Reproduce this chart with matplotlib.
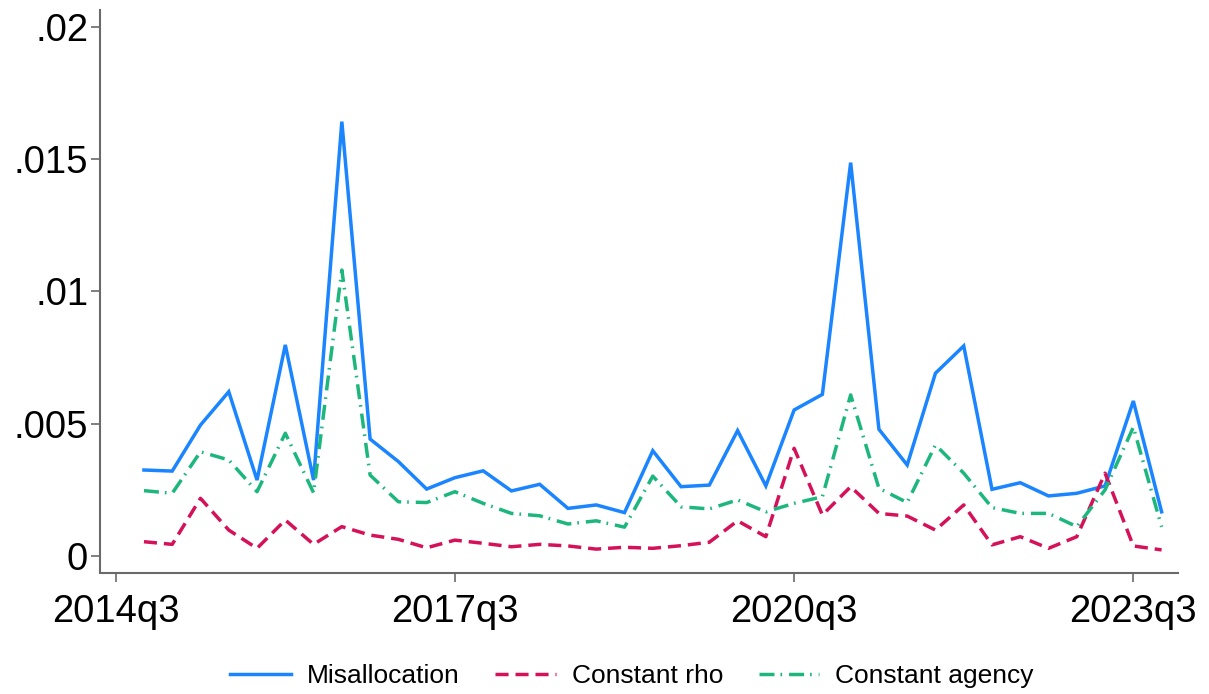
import matplotlib
matplotlib.use("Agg")
import matplotlib.pyplot as plt
import numpy as np

plt.rcParams['font.family'] = ['Liberation Sans', 'DejaVu Sans']
plt.rcParams['lines.scale_dashes'] = False

# Quarterly series, 2014q4 .. 2023q4
quarters = ["2014q4", "2015q1", "2015q2", "2015q3", "2015q4", "2016q1", "2016q2", "2016q3",
            "2016q4", "2017q1", "2017q2", "2017q3", "2017q4", "2018q1", "2018q2", "2018q3",
            "2018q4", "2019q1", "2019q2", "2019q3", "2019q4", "2020q1", "2020q2", "2020q3",
            "2020q4", "2021q1", "2021q2", "2021q3", "2021q4", "2022q1", "2022q2", "2022q3",
            "2022q4", "2023q1", "2023q2", "2023q3", "2023q4"]

misallocation = [0.00325, 0.00321, 0.00495, 0.00621, 0.00287, 0.00798, 0.00287, 0.01642,
                 0.00442, 0.00357, 0.00253, 0.00296, 0.00322, 0.00246, 0.00271, 0.00180,
                 0.00193, 0.00164, 0.00398, 0.00262, 0.00268, 0.00474, 0.00265, 0.00552,
                 0.00611, 0.01487, 0.00479, 0.00344, 0.00691, 0.00794, 0.00252, 0.00277,
                 0.00227, 0.00237, 0.00265, 0.00586, 0.00167]

constant_rho = [0.00054, 0.00044, 0.00218, 0.00098, 0.00029, 0.00136, 0.00044, 0.00111,
                0.00079, 0.00063, 0.00031, 0.00060, 0.00048, 0.00035, 0.00044, 0.00038,
                0.00026, 0.00033, 0.00029, 0.00039, 0.00052, 0.00133, 0.00073, 0.00407,
                0.00155, 0.00262, 0.00161, 0.00151, 0.00098, 0.00193, 0.00042, 0.00073,
                0.00029, 0.00073, 0.00313, 0.00038, 0.00023]

constant_agency = [0.00247, 0.00237, 0.00394, 0.00363, 0.00243, 0.00464, 0.00239, 0.01081,
                   0.00306, 0.00205, 0.00202, 0.00243, 0.00199, 0.00161, 0.00152, 0.00121,
                   0.00133, 0.00109, 0.00302, 0.00186, 0.00178, 0.00212, 0.00167, 0.00199,
                   0.00224, 0.00609, 0.00256, 0.00202, 0.00420, 0.00313, 0.00183, 0.00161,
                   0.00161, 0.00111, 0.00250, 0.00487, 0.00110]

xtick_labels = ["2014q3", "2017q3", "2020q3", "2023q3"]
ytick_values = [0, 0.005, 0.01, 0.015, 0.02]
ytick_labels = ["0", ".005", ".01", ".015", ".02"]


def quarter_index(q):
    # quarters elapsed since 2014q3
    year, qq = int(q[:4]), int(q[5])
    return (year - 2014) * 4 + (qq - 3)


x = np.array([quarter_index(q) for q in quarters])
xticks = [quarter_index(q) for q in xtick_labels]

fig = plt.figure(figsize=(12.09, 6.94), dpi=100)
ax = fig.add_axes([100 / 1209, 1 - 572.5 / 694, 1078 / 1209, 562.5 / 694])

ax.plot(x, misallocation, color='#1A85FF', lw=2.5, solid_joinstyle='miter',
        label='Misallocation')
ax.plot(x, constant_rho, color='#D41159', lw=2.5, dashes=(9.4, 5.0),
        label='Constant rho')
ax.plot(x, constant_agency, color='#1DB77E', lw=2.5, dashes=(10.8, 4.3, 1.2, 5.0),
        label='Constant agency')

ax.set_xlim(-0.555, 37.58)
ax.set_ylim(-0.000624, 0.02064)
ax.set_xticks(xticks)
ax.set_xticklabels(xtick_labels)
ax.set_yticks(ytick_values)
ax.set_yticklabels(ytick_labels)

for side in ('top', 'right'):
    ax.spines[side].set_visible(False)
for side in ('left', 'bottom'):
    ax.spines[side].set_color('#6a6a6a')
    ax.spines[side].set_linewidth(1.5)

ax.tick_params(axis='both', which='major', length=6.5, width=1.2, color='#6a6a6a',
               labelsize=27.5, labelcolor='black')
ax.tick_params(axis='y', pad=2)
ax.tick_params(axis='x', pad=9)

fig.legend(loc='center', bbox_to_anchor=(632 / 1209, 18 / 694), ncol=3, frameon=False,
           fontsize=19, handlelength=2.3, handletextpad=0.6, columnspacing=1.35)

fig.savefig('out.png', dpi=100, facecolor='white')
